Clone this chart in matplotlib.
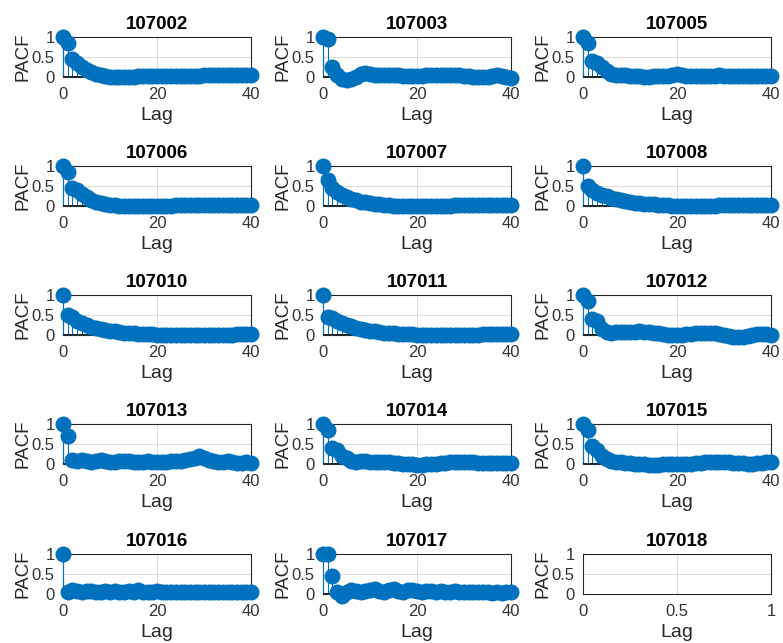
import matplotlib.pyplot as plt

plt.rcParams['font.family'] = ['Liberation Sans', 'DejaVu Sans']

# station ids, one panel each (last one has no data)
stations = ['107002', '107003', '107005', '107006', '107007', '107008',
            '107010', '107011', '107012', '107013', '107014', '107015',
            '107016', '107017', '107018']

lags = list(range(41))

pacf_107002 = [1.0, 0.85, 0.45, 0.35, 0.25, 0.18, 0.12, 0.08, 0.05, 0.03, 0.01,
               0.0, -0.01, -0.01, 0.0, 0.01, 0.02, 0.02, 0.02, 0.02, 0.02,
               0.02, 0.02, 0.03, 0.03, 0.03, 0.03, 0.03, 0.03, 0.03, 0.04,
               0.04, 0.04, 0.04, 0.04, 0.04, 0.05, 0.05, 0.05, 0.05, 0.05]
pacf_107003 = [1.0, 0.96, 0.25, 0.05, -0.04, -0.07, -0.04, 0.01, 0.07, 0.09,
               0.08, 0.06, 0.05, 0.04, 0.04, 0.05, 0.04, 0.03, 0.03, 0.02,
               0.02, 0.03, 0.04, 0.04, 0.05, 0.05, 0.06, 0.06, 0.05, 0.04,
               0.03, 0.02, 0.01, 0.0, -0.01, 0.01, 0.02, 0.04, 0.03, 0.01, -0.02]
pacf_107005 = [1.0, 0.86, 0.4, 0.36, 0.25, 0.15, 0.08, 0.05, 0.05, 0.04, 0.03,
               0.02, 0.02, 0.01, 0.01, 0.02, 0.02, 0.02, 0.03, 0.05, 0.08,
               0.04, 0.02, 0.02, 0.02, 0.02, 0.03, 0.03, 0.03, 0.04, 0.03,
               0.03, 0.02, 0.02, 0.02, 0.02, 0.02, 0.02, 0.03, 0.03, 0.02]
pacf_107006 = [1.0, 0.86, 0.45, 0.4, 0.3, 0.22, 0.16, 0.11, 0.08, 0.05, 0.03,
               0.02, 0.01, 0.0, -0.01, -0.01, 0.0, 0.0, 0.01, 0.01, 0.01,
               0.01, 0.01, 0.01, 0.02, 0.02, 0.02, 0.02, 0.02, 0.02, 0.02,
               0.02, 0.02, 0.02, 0.02, 0.02, 0.02, 0.02, 0.02, 0.02, 0.02]
pacf_107007 = [1.0, 0.65, 0.45, 0.35, 0.28, 0.22, 0.18, 0.14, 0.11, 0.09, 0.07,
               0.05, 0.04, 0.03, 0.02, 0.01, 0.0, 0.0, 0.0, 0.0, 0.01, 0.01,
               0.01, 0.01, 0.01, 0.01, 0.01, 0.01, 0.02, 0.02, 0.02, 0.02,
               0.02, 0.02, 0.02, 0.02, 0.02, 0.02, 0.02, 0.02, 0.02]
pacf_107008 = [1.0, 0.5, 0.4, 0.33, 0.28, 0.24, 0.2, 0.17, 0.14, 0.12, 0.1,
               0.08, 0.07, 0.06, 0.05, 0.04, 0.03, 0.02, 0.02, 0.01, 0.01,
               0.01, 0.01, 0.01, 0.01, 0.01, 0.01, 0.01, 0.01, 0.02, 0.02,
               0.02, 0.02, 0.02, 0.02, 0.02, 0.02, 0.02, 0.02, 0.02, 0.02]
pacf_107010 = [1.0, 0.5, 0.45, 0.36, 0.3, 0.25, 0.21, 0.18, 0.15, 0.12, 0.1,
               0.09, 0.07, 0.06, 0.05, 0.04, 0.03, 0.03, 0.02, 0.02, 0.01,
               0.01, 0.01, 0.01, 0.01, 0.01, 0.01, 0.01, 0.01, 0.01, 0.01,
               0.01, 0.01, 0.01, 0.01, 0.01, 0.01, 0.02, 0.02, 0.02, 0.02]
pacf_107011 = [1.0, 0.45, 0.42, 0.35, 0.3, 0.26, 0.22, 0.18, 0.15, 0.13, 0.11,
               0.09, 0.08, 0.06, 0.05, 0.04, 0.03, 0.03, 0.02, 0.02, 0.01,
               0.01, 0.01, 0.01, 0.01, 0.01, 0.01, 0.01, 0.01, 0.01, 0.01,
               0.01, 0.01, 0.01, 0.02, 0.02, 0.02, 0.02, 0.02, 0.02, 0.02]
pacf_107012 = [1.0, 0.85, 0.4, 0.35, 0.15, 0.08, 0.06, 0.07, 0.08, 0.08, 0.07,
               0.08, 0.09, 0.08, 0.07, 0.05, 0.04, 0.02, 0.0, -0.01, -0.01,
               0.0, 0.02, 0.03, 0.04, 0.05, 0.05, 0.05, 0.04, 0.02, 0.0,
               -0.02, -0.04, -0.05, -0.04, -0.02, 0.0, 0.02, 0.03, 0.02, 0.0]
pacf_107013 = [1.0, 0.7, 0.1, 0.08, 0.1, 0.07, 0.05, 0.08, 0.1, 0.07, 0.05,
               0.06, 0.07, 0.08, 0.07, 0.06, 0.05, 0.06, 0.07, 0.06, 0.05,
               0.06, 0.05, 0.07, 0.08, 0.08, 0.1, 0.12, 0.15, 0.2, 0.15, 0.1,
               0.08, 0.06, 0.05, 0.07, 0.05, 0.03, 0.02, 0.04, 0.03]
pacf_107014 = [1.0, 0.86, 0.4, 0.36, 0.2, 0.15, 0.08, 0.06, 0.08, 0.07, 0.06,
               0.05, 0.05, 0.04, 0.04, 0.03, 0.02, 0.01, 0.0, -0.01, -0.02,
               -0.02, -0.01, 0.0, 0.01, 0.02, 0.03, 0.04, 0.05, 0.05, 0.05,
               0.04, 0.04, 0.03, 0.03, 0.03, 0.03, 0.03, 0.02, 0.02, 0.02]
pacf_107015 = [1.0, 0.86, 0.45, 0.35, 0.2, 0.12, 0.08, 0.05, 0.04, 0.03, 0.02,
               0.01, 0.0, -0.01, -0.02, -0.02, -0.02, -0.01, -0.01, 0.0, 0.0,
               0.0, 0.01, 0.01, 0.02, 0.03, 0.04, 0.05, 0.05, 0.06, 0.05,
               0.04, 0.03, 0.02, 0.02, 0.01, 0.01, 0.02, 0.03, 0.04, 0.04]
pacf_107016 = [1.0, 0.05, 0.1, 0.08, 0.06, 0.07, 0.08, 0.05, 0.06, 0.07, 0.05,
               0.08, 0.06, 0.05, 0.07, 0.05, 0.1, 0.05, 0.06, 0.05, 0.07,
               0.06, 0.05, 0.06, 0.04, 0.05, 0.06, 0.05, 0.06, 0.05, 0.04,
               0.05, 0.06, 0.05, 0.04, 0.05, 0.05, 0.04, 0.05, 0.04, 0.05]
pacf_107017 = [1.0, 1.0, 0.45, 0.05, -0.05, 0.05, 0.1, 0.08, 0.05, 0.08, 0.1,
               0.12, 0.08, 0.05, 0.1, 0.12, 0.08, 0.06, 0.09, 0.1, 0.07,
               0.06, 0.08, 0.07, 0.06, 0.08, 0.06, 0.05, 0.07, 0.06, 0.05,
               0.06, 0.05, 0.04, 0.05, 0.04, 0.03, 0.04, 0.03, 0.04, 0.05]

series = [pacf_107002, pacf_107003, pacf_107005, pacf_107006, pacf_107007,
          pacf_107008, pacf_107010, pacf_107011, pacf_107012, pacf_107013,
          pacf_107014, pacf_107015, pacf_107016, pacf_107017, None]

blue = '#0072BD'
W, H = 783, 643
lefts = [63, 323, 583]
tops = [37, 166, 295, 424, 554]
aw, ah = 188, 40

fig = plt.figure(figsize=(W / 100, H / 100), dpi=100)

for i, name in enumerate(stations):
    r, c = divmod(i, 3)
    ax = fig.add_axes([lefts[c] / W, (H - tops[r] - ah) / H, aw / W, ah / H])
    vals = series[i]
    if vals is not None:
        ax.vlines(lags, 0, vals, color=blue, lw=0.8, clip_on=False, zorder=3)
        ax.plot(lags, vals, 'o', color=blue, ms=10.5, mec=blue,
                clip_on=False, zorder=4)
        ax.axhline(0, color='black', lw=1.2, zorder=3.5)
        ax.set_xlim(0, 40)
        ax.set_xticks([0, 20, 40])
    else:
        ax.set_xlim(0, 1)
        ax.set_xticks([0, 0.5, 1])
        ax.set_xticklabels(['0', '0.5', '1'])
    ax.set_ylim(0, 1)
    ax.set_yticks([0, 0.5, 1])
    ax.set_yticklabels(['0', '0.5', '1'])
    ax.grid(True, color='#dcdcdc', lw=0.7)
    ax.set_axisbelow(True)
    for s in ax.spines.values():
        s.set_color('#262626')
        s.set_linewidth(0.8)
    ax.tick_params(labelsize=12, length=0, colors='#333333')
    ax.tick_params(axis='x', pad=7)
    ax.tick_params(axis='y', pad=6)
    ax.set_title(name, fontsize=13.5, fontweight='bold', pad=6)
    ax.set_xlabel('Lag', fontsize=14, labelpad=4, color='#262626')
    ax.set_ylabel('PACF', fontsize=13.5, labelpad=0, color='#262626')

plt.savefig('out.png', dpi=100)
